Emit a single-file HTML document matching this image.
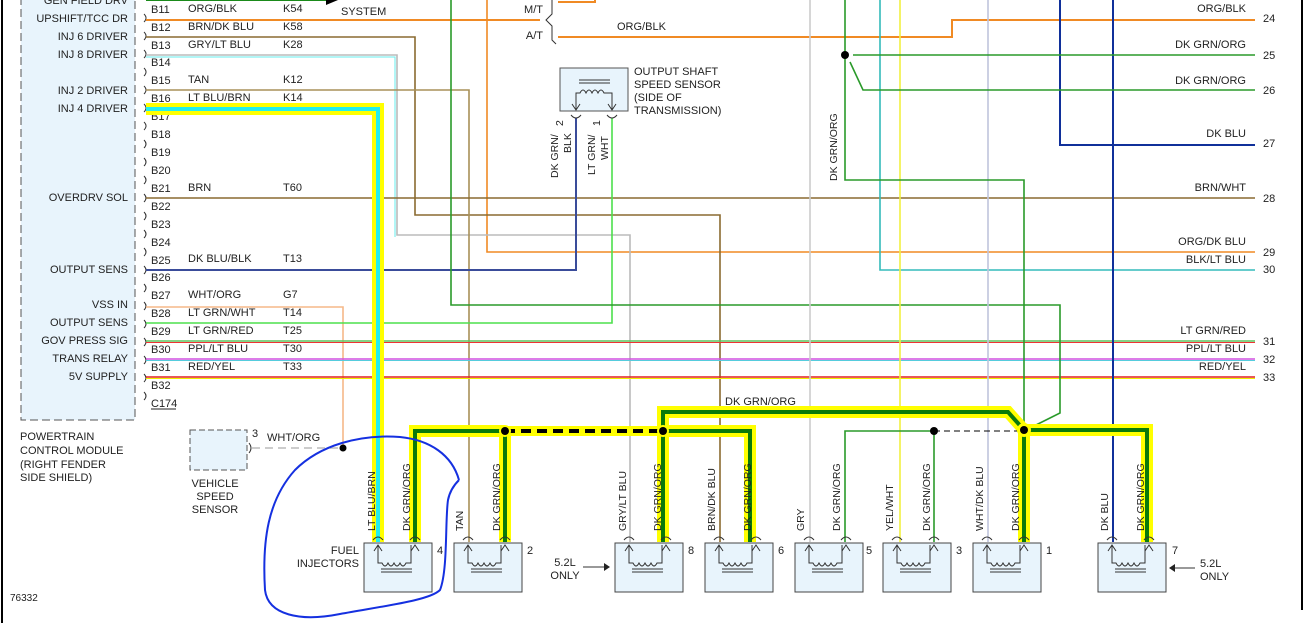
<!DOCTYPE html>
<html><head><meta charset="utf-8"><style>
html,body{margin:0;padding:0;background:#fff;}
svg{display:block;font-family:"Liberation Sans",Arial,sans-serif;font-size:11px;}
</style></head><body>
<svg width="1312" height="623" viewBox="0 0 1312 623" xmlns="http://www.w3.org/2000/svg">
<rect x="0" y="0" width="1312" height="623" fill="#fff"/>
<line x1="2" y1="0" x2="2" y2="623" stroke="#000" stroke-width="2"/>
<line x1="1302" y1="0" x2="1302" y2="610" stroke="#000" stroke-width="2"/>
<!-- PCM box -->
<rect x="21" y="-5" width="114" height="425" fill="#e8f4fc" stroke="#555" stroke-dasharray="8,4"/>
<g text-anchor="end" fill="#222">
<text x="128" y="4">GEN FIELD DRV</text>
<text x="128" y="22">UPSHIFT/TCC DR</text>
<text x="128" y="40">INJ 6 DRIVER</text>
<text x="128" y="58">INJ 8 DRIVER</text>
<text x="128" y="94">INJ 2 DRIVER</text>
<text x="128" y="112">INJ 4 DRIVER</text>
<text x="128" y="201">OVERDRV SOL</text>
<text x="128" y="273">OUTPUT SENS</text>
<text x="128" y="308">VSS IN</text>
<text x="128" y="326">OUTPUT SENS</text>
<text x="128" y="344">GOV PRESS SIG</text>
<text x="128" y="362">TRANS RELAY</text>
<text x="128" y="380">5V SUPPLY</text>
</g>
<g fill="none" stroke="#333" stroke-width="1">
<path d="M144,14 q4,4 0,8 M144,32 q4,4 0,8 M144,50 q4,4 0,8 M144,68 q4,4 0,8 M144,86 q4,4 0,8 M144,104 q4,4 0,8 M144,122 q4,4 0,8 M144,140 q4,4 0,8 M144,158 q4,4 0,8 M144,176 q4,4 0,8 M144,194 q4,4 0,8 M144,212 q4,4 0,8 M144,230 q4,4 0,8 M144,248 q4,4 0,8 M144,266 q4,4 0,8 M144,284 q4,4 0,8 M144,302 q4,4 0,8 M144,320 q4,4 0,8 M144,338 q4,4 0,8 M144,356 q4,4 0,8 M144,374 q4,4 0,8 M144,392 q4,4 0,8"/>
</g>
<g fill="#222">
<text x="151" y="13">B11</text><text x="151" y="31">B12</text><text x="151" y="49">B13</text><text x="151" y="66">B14</text>
<text x="151" y="84">B15</text><text x="151" y="102">B16</text><text x="151" y="120">B17</text><text x="151" y="138">B18</text>
<text x="151" y="156">B19</text><text x="151" y="174">B20</text><text x="151" y="192">B21</text><text x="151" y="210">B22</text>
<text x="151" y="228">B23</text><text x="151" y="246">B24</text><text x="151" y="264">B25</text><text x="151" y="281">B26</text>
<text x="151" y="299">B27</text><text x="151" y="317">B28</text><text x="151" y="335">B29</text><text x="151" y="353">B30</text>
<text x="151" y="371">B31</text><text x="151" y="389">B32</text><text x="151" y="407">C174</text>
<line x1="151" y1="409" x2="176" y2="409" stroke="#222"/>
<text x="188" y="12">ORG/BLK</text><text x="283" y="12">K54</text>
<text x="188" y="30">BRN/DK BLU</text><text x="283" y="30">K58</text>
<text x="188" y="48">GRY/LT BLU</text><text x="283" y="48">K28</text>
<text x="188" y="83">TAN</text><text x="283" y="83">K12</text>
<text x="188" y="101">LT BLU/BRN</text><text x="283" y="101">K14</text>
<text x="188" y="191">BRN</text><text x="283" y="191">T60</text>
<text x="188" y="262">DK BLU/BLK</text><text x="283" y="262">T13</text>
<text x="188" y="298">WHT/ORG</text><text x="283" y="298">G7</text>
<text x="188" y="316">LT GRN/WHT</text><text x="283" y="316">T14</text>
<text x="188" y="334">LT GRN/RED</text><text x="283" y="334">T25</text>
<text x="188" y="352">PPL/LT BLU</text><text x="283" y="352">T30</text>
<text x="188" y="370">RED/YEL</text><text x="283" y="370">T33</text>
<text x="341" y="-1">CHARGING</text><text x="341" y="15">SYSTEM</text>
</g>
<!-- wires -->
<g fill="none" stroke-width="1.6">
<path d="M146,0 H326" stroke="#1a8a1a" stroke-width="2"/>
<polygon points="326,-5 338,0 326,5" fill="#000" stroke="none"/>
<path d="M146,20 H540" stroke="#f08a24" stroke-width="2"/>
<path d="M558,2 H595 V-2" stroke="#f08a24" stroke-width="2"/>
<path d="M558,37 H952 V20 H1255" stroke="#f08a24" stroke-width="2"/>
<path d="M487,0 V252 H1255" stroke="#f08a24" stroke-width="1.6"/>
<path d="M146,37 H415 V215 H720 V542" stroke="#8a6a30"/>
<path d="M146,55 H397 V235 H630 V542" stroke="#bbb"/>
<path d="M146,57 H395 V237" stroke="#6ee" stroke-width="1"/>
<path d="M146,90 H469 V542" stroke="#a89058"/>
<path d="M146,198 H1255" stroke="#8a6a30"/>
<path d="M146,270 H576 V118" stroke="#3a4c9a" stroke-width="2"/>
<path d="M146,307 H343 V448" stroke="#f5b888"/>
<path d="M146,323 H612 V118" stroke="#4de04d"/>
<path d="M146,341 H1255" stroke="#5fc45f"/>
<path d="M146,342.5 H1255" stroke="#e33" stroke-width="1"/>
<path d="M146,359 H1255" stroke="#d050e0"/>
<path d="M146,360.5 H1255" stroke="#5cd" stroke-width="1"/>
<path d="M146,377 H1255" stroke="#e02020"/>
<path d="M146,378.5 H1255" stroke="#ee0" stroke-width="1"/>
<path d="M451,0 V305 H1060 V413 L1030,428" stroke="#2a9a2a"/>
<path d="M810,0 V542" stroke="#ccc"/>
<path d="M880,0 V270 H1255" stroke="#3bb"/>
<path d="M900,0 V542" stroke="#f2f040"/>
<path d="M988,0 V542" stroke="#c0c4dc"/>
<path d="M1060,0 V145 H1255" stroke="#10309a" stroke-width="2"/>
<path d="M1113,0 V542" stroke="#10309a" stroke-width="2"/>
<path d="M845,0 V180 H1024 V430" stroke="#2a9a2a"/>
<path d="M853,55 H1255" stroke="#2a9a2a"/>
<path d="M850,62 L863,90 H1255" stroke="#2a9a2a"/>
<path d="M934,431 H845 V542" stroke="#2a9a2a"/>
<path d="M934,431 V542" stroke="#2a9a2a"/>
</g>
<!-- highlighted -->
<g fill="none" stroke-linejoin="miter">
<path d="M146,109 H378 V542" stroke="#ff0" stroke-width="12"/>
<path d="M146,109 H378 V542" stroke="#2ee" stroke-width="4"/>
<path d="M663,431 V412 H1008 L1024,430 H1147 V542 M1024,430 V542 M663,431 H750 V542 M663,431 V542 M505,431 V542 M505,431 H415 V542" stroke="#ff0" stroke-width="12"/>
<path d="M505,431 H663" stroke="#ff0" stroke-width="10"/>
<path d="M663,431 V412 H1008 L1024,430 H1147 V542 M1024,430 V542 M663,431 H750 V542 M663,431 V542 M505,431 V542 M505,431 H415 V542" stroke="#0a7a0a" stroke-width="4"/>
<path d="M505,431 H663" stroke="#000" stroke-width="4" stroke-dasharray="10,6"/>
</g>
<path d="M934,431 H1024" stroke="#000" stroke-dasharray="6,4" fill="none"/>
<path d="M252,448 H343" stroke="#ccc" stroke-width="2" stroke-dasharray="8,5" fill="none"/>
<g fill="#000">
<circle cx="845" cy="55" r="4"/><circle cx="343" cy="448" r="3.5"/>
<circle cx="505" cy="431" r="6" fill="#ff0"/><circle cx="505" cy="431" r="4"/>
<circle cx="663" cy="431" r="6" fill="#ff0"/><circle cx="663" cy="431" r="4"/>
<circle cx="1024" cy="430" r="7" fill="#ff0"/><circle cx="1024" cy="430" r="4"/>
<circle cx="934" cy="431" r="4"/>
</g>
<!-- M/T A/T -->
<g fill="#222"><text x="543" y="13" text-anchor="end">M/T</text><text x="543" y="39" text-anchor="end">A/T</text>
<text x="617" y="30">ORG/BLK</text>
<text x="725" y="405">DK GRN/ORG</text></g>
<path d="M552,0 V14 L546,20 L552,26 V40 L556,44" fill="none" stroke="#333"/>
<!-- output shaft sensor -->
<rect x="560" y="68" width="68" height="43" fill="#e8f4fc" stroke="#555"/>
<g fill="none" stroke="#333">
<path d="M579,80 H610 M579,83 H610"/>
<path d="M576,110 V93 h4 q3,-6 6,0 q3,-6 6,0 q3,-6 6,0 q3,-6 6,0 h8 V110"/>
<path d="M572,104 L576,110 L580,104 M608,104 L612,110 L616,104"/>
<path d="M571,115 q5,6 10,0 M607,115 q5,6 10,0"/>
</g>
<g fill="#222"><text x="634" y="75">OUTPUT SHAFT</text><text x="634" y="88">SPEED SENSOR</text><text x="634" y="101">(SIDE OF</text><text x="634" y="114">TRANSMISSION)</text></g>
<g fill="#222" font-size="10.5">
<text transform="translate(558,178) rotate(-90)">DK GRN/</text>
<text transform="translate(571,153) rotate(-90)">BLK</text>
<text transform="translate(563,126) rotate(-90)">2</text>
<text transform="translate(595,175) rotate(-90)">LT GRN/</text>
<text transform="translate(608,160) rotate(-90)">WHT</text>
<text transform="translate(600,126) rotate(-90)">1</text>
<text transform="translate(837,181) rotate(-90)">DK GRN/ORG</text>
</g>
<!-- right labels -->
<g fill="#222" text-anchor="end">
<text x="1246" y="12">ORG/BLK</text><text x="1246" y="48">DK GRN/ORG</text><text x="1246" y="84">DK GRN/ORG</text>
<text x="1246" y="137">DK BLU</text><text x="1246" y="191">BRN/WHT</text><text x="1246" y="245">ORG/DK BLU</text>
<text x="1246" y="263">BLK/LT BLU</text><text x="1246" y="334">LT GRN/RED</text><text x="1246" y="352">PPL/LT BLU</text>
<text x="1246" y="370">RED/YEL</text>
</g>
<g fill="#222"><text x="1263" y="22">24</text><text x="1263" y="59">25</text><text x="1263" y="94">26</text>
<text x="1263" y="147">27</text><text x="1263" y="202">28</text><text x="1263" y="256">29</text><text x="1263" y="273">30</text>
<text x="1263" y="345">31</text><text x="1263" y="363">32</text><text x="1263" y="381">33</text></g>
<!-- VSS -->
<rect x="190" y="430" width="57" height="40" fill="#e8f4fc" stroke="#555" stroke-dasharray="6,3"/>
<path d="M249,443 q4,5 0,10" fill="none" stroke="#333"/>
<g fill="#222"><text x="252" y="437">3</text><text x="267" y="441">WHT/ORG</text>
<text x="215" y="487" text-anchor="middle">VEHICLE</text><text x="215" y="500" text-anchor="middle">SPEED</text><text x="215" y="513" text-anchor="middle">SENSOR</text>
<text x="20" y="440">POWERTRAIN</text><text x="20" y="454">CONTROL MODULE</text><text x="20" y="468">(RIGHT FENDER</text><text x="20" y="481">SIDE SHIELD)</text>
<text x="10" y="601" font-size="10">76332</text>
<text x="359" y="554" text-anchor="end">FUEL</text><text x="359" y="567" text-anchor="end">INJECTORS</text>
<text x="565" y="566" text-anchor="middle">5.2L</text><text x="565" y="579" text-anchor="middle">ONLY</text>
<text x="1200" y="567">5.2L</text><text x="1200" y="580">ONLY</text></g>
<path d="M583,567 H604" stroke="#333"/><polygon points="604,563 610,567 604,571" fill="#222"/>
<path d="M1195,568 H1175" stroke="#333"/><polygon points="1175,564 1169,568 1175,572" fill="#222"/>
<!-- injectors -->
<defs>
<g id="inj">
<rect x="0" y="0" width="68" height="49" fill="#e8f4fc" stroke="#444"/>
<g fill="none" stroke="#333">
<path d="M14,2 V20 h4 q3,6 6,0 q3,6 6,0 q3,6 6,0 q3,6 6,0 h5 V2"/>
<path d="M10,8 L14,2 L18,8 M47,8 L51,2 L55,8"/>
<path d="M9,-3 q5,-6 10,0 M46,-3 q5,-6 10,0"/>
<path d="M17,26 H48 M17,29 H48"/>
</g>
</g>
</defs>
<use href="#inj" x="364" y="543"/><use href="#inj" x="454" y="543"/><use href="#inj" x="615" y="543"/>
<use href="#inj" x="705" y="543"/><use href="#inj" x="795" y="543"/><use href="#inj" x="883" y="543"/>
<use href="#inj" x="973" y="543"/><use href="#inj" x="1098" y="543"/>
<g fill="#222"><text x="437" y="554">4</text><text x="527" y="554">2</text><text x="688" y="554">8</text><text x="778" y="554">6</text>
<text x="866" y="554">5</text><text x="956" y="554">3</text><text x="1046" y="554">1</text><text x="1172" y="554">7</text></g>
<g fill="#222" font-size="10.5">
<text transform="translate(375,531) rotate(-90)">LT BLU/BRN</text>
<text transform="translate(410,531) rotate(-90)">DK GRN/ORG</text>
<text transform="translate(463,531) rotate(-90)">TAN</text>
<text transform="translate(500,531) rotate(-90)">DK GRN/ORG</text>
<text transform="translate(626,531) rotate(-90)">GRY/LT BLU</text>
<text transform="translate(661,531) rotate(-90)">DK GRN/ORG</text>
<text transform="translate(715,531) rotate(-90)">BRN/DK BLU</text>
<text transform="translate(751,531) rotate(-90)">DK GRN/ORG</text>
<text transform="translate(804,531) rotate(-90)">GRY</text>
<text transform="translate(840,531) rotate(-90)">DK GRN/ORG</text>
<text transform="translate(893,531) rotate(-90)">YEL/WHT</text>
<text transform="translate(930,531) rotate(-90)">DK GRN/ORG</text>
<text transform="translate(983,531) rotate(-90)">WHT/DK BLU</text>
<text transform="translate(1019,531) rotate(-90)">DK GRN/ORG</text>
<text transform="translate(1108,531) rotate(-90)">DK BLU</text>
<text transform="translate(1144,531) rotate(-90)">DK GRN/ORG</text>
</g>
<!-- hand drawn loop -->
<path d="M459,480 C452,455 430,440 400,437 C360,434 320,445 295,470 C268,500 262,540 265,590 C268,615 300,622 340,614 C390,605 430,600 440,590 C448,570 445,520 448,500 C450,490 455,484 459,480" fill="none" stroke="#1530e0" stroke-width="2"/>
</svg>
</body></html>
